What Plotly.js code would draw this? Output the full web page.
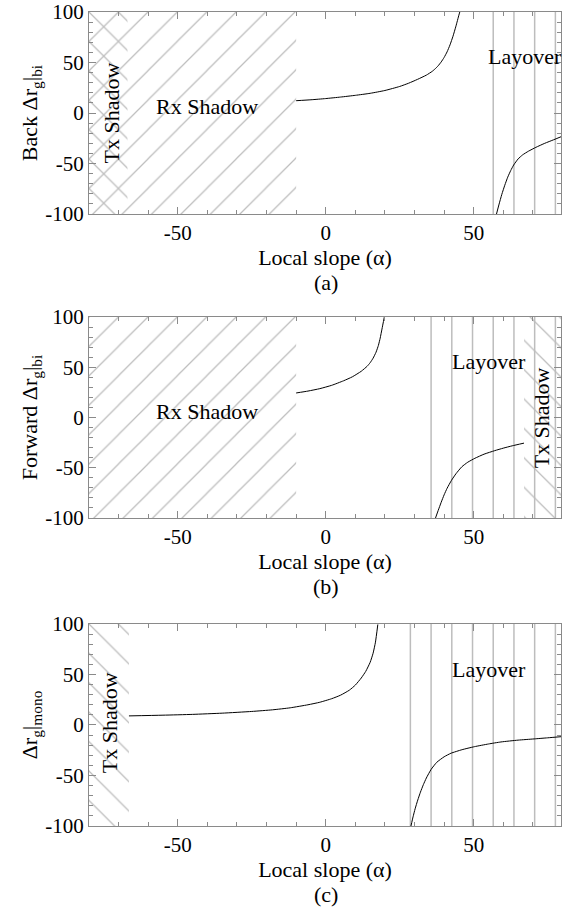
<!DOCTYPE html>
<html>
<head>
<meta charset="utf-8">
<script src="https://cdn.plot.ly/plotly-3.0.1.min.js"></script>
<style>html,body{margin:0;padding:0;background:#fff;}#chart{width:562px;height:907px;}</style>
</head>
<body>
<div id="chart"></div>
<script>
// ---- data ----
const xRange = [-80, 79.5];
const yRange = [-100, 100];
const xTickVals = [-50, 0, 50];
const xTickText = ['-50', '0', '50'];
const yTickVals = [-100, -50, 0, 50, 100];
const yTickText = ['-100', '-50', '0', '50', '100'];

// (a) back-scatter bistatic
const backX1 = [-10,-5,0,5,10,15,20,25,28,31,34,36,37,38,39,40,41,42,43,44,45,45.3];
const backY1 = [12.2,13.1,14.3,15.8,17.5,19.5,22.3,26.3,29.5,33.3,37.5,41.3,43.8,46.8,50.5,55,60.5,67.5,76,86,97,100];
const backX2 = [57.7,58.5,59.5,60.5,61.5,62.5,63.5,65,66.5,68.5,71,74,77,79.5];
const backY2 = [-100,-91,-80.5,-71.5,-63.5,-57,-51.5,-45.5,-41.5,-37.8,-34,-30,-26.5,-23.5];
const layoverA = [56.6, 63.6, 70.6, 77.6];
const rxShadowA = [-80, -10];
const txShadowA = [-80, -67];

// (b) forward-scatter bistatic
const fwdX1 = [-10,-6,-2,2,6,9,12,14,15,16,17,17.8,18.4,19,19.8];
const fwdY1 = [24.4,26.3,28.7,32,36.5,40.5,46,51,54.5,59,65,71.8,79,88,100];
const fwdX2 = [37.1,38,39,40,41,42.5,44,46,48,50.4,53.5,57.1,60,63,67];
const fwdY2 = [-100,-92.5,-84.5,-77,-70.5,-62.5,-56,-49,-44.5,-40.6,-36.5,-33,-30.5,-28.2,-25.5];
const layoverB = [35.6, 42.6, 49.6, 56.6, 63.6, 70.6, 77.6];
const rxShadowB = [-80, -10];
const txShadowB = [67, 79.5];

// (c) monostatic
const monoX1 = [-66.5,-55,-45,-35,-25,-18,-12,-6,-2,2,5,8,10,12,13.5,15,16,16.8,17.6];
const monoY1 = [9,9.7,10.5,11.7,13.4,15,17,20,22.5,26,29.5,34.5,39.5,46.5,53,62,71,82,99.5];
const monoX2 = [28.8,29.5,30.2,31.1,32,33,34,35.6,37.5,40,42.3,46,50.2,55,59.2,65,70.4,75,79.5];
const monoY2 = [-100,-91,-83,-74.3,-66.5,-59,-52.5,-44,-37,-31.5,-28,-24.5,-21.5,-18.8,-16.8,-15,-13.8,-12.7,-11.6];
const layoverC = [28.6, 35.6, 42.6, 49.6, 56.6, 63.6, 70.6, 77.6];
const txShadowC = [-80, -66.5];

// ---- styling ----
const FONT = '"Liberation Serif", serif';
const HATCH = '#bdbdbd';
const AXIS = '#8a8a8a';

function hatch(range, shape, xa, ya) {
  return {
    type: 'scatter', mode: 'lines', xaxis: xa, yaxis: ya,
    x: [range[0], range[1], range[1], range[0], range[0]],
    y: [yRange[0], yRange[0], yRange[1], yRange[1], yRange[0]],
    fill: 'toself', fillcolor: 'rgba(0,0,0,0)',
    fillpattern: {shape: shape, fgcolor: HATCH, bgcolor: 'rgba(0,0,0,0)', size: 20.8, solidity: 0.06},
    line: {width: 0, color: 'rgba(0,0,0,0)'}, hoverinfo: 'skip', showlegend: false
  };
}
function vlines(xs, xa, ya) {
  const x = [], y = [];
  xs.forEach(v => { x.push(v, v, null); y.push(yRange[0], yRange[1], null); });
  return {type: 'scatter', mode: 'lines', x: x, y: y, xaxis: xa, yaxis: ya,
          line: {color: HATCH, width: 1.5}, hoverinfo: 'skip', showlegend: false};
}
function curve(x, y, xa, ya) {
  return {type: 'scatter', mode: 'lines', x: x, y: y, xaxis: xa, yaxis: ya, cliponaxis: true,
          line: {color: '#000', width: 1, shape: 'spline', smoothing: 0.5}, showlegend: false};
}

const traces = [
  hatch(rxShadowA, '/', 'x', 'y'), hatch(txShadowA, '\\', 'x', 'y'), vlines(layoverA, 'x', 'y'),
  curve(backX1, backY1, 'x', 'y'), curve(backX2, backY2, 'x', 'y'),
  hatch(rxShadowB, '/', 'x2', 'y2'), hatch(txShadowB, '\\', 'x2', 'y2'), vlines(layoverB, 'x2', 'y2'),
  curve(fwdX1, fwdY1, 'x2', 'y2'), curve(fwdX2, fwdY2, 'x2', 'y2'),
  hatch(txShadowC, '\\', 'x3', 'y3'), vlines(layoverC, 'x3', 'y3'),
  curve(monoX1, monoY1, 'x3', 'y3'), curve(monoX2, monoY2, 'x3', 'y3')
];

function xax(anchor) {
  return {
    anchor: anchor, range: xRange, tickmode: 'array', tickvals: xTickVals, ticktext: xTickText,
    ticks: 'inside', ticklen: 7, tickcolor: AXIS, tickwidth: 1,
    minor: {dtick: 10, tick0: 0, ticks: 'inside', ticklen: 4, tickcolor: AXIS},
    showline: true, linecolor: AXIS, linewidth: 1, mirror: 'ticks',
    showgrid: false, zeroline: false,
    tickfont: {family: FONT, size: 21, color: '#000'},
    title: {text: 'Local slope (\u03b1)', font: {family: FONT, size: 22, color: '#000'}, standoff: 3}
  };
}
function yax(anchor, dom, title) {
  return {
    anchor: anchor, domain: dom, range: yRange, tickmode: 'array', tickvals: yTickVals, ticktext: yTickText,
    ticks: 'inside', ticklen: 7, tickcolor: AXIS, tickwidth: 1,
    minor: {dtick: 10, tick0: 0, ticks: 'inside', ticklen: 4, tickcolor: AXIS},
    showline: true, linecolor: AXIS, linewidth: 1, mirror: 'ticks',
    showgrid: false, zeroline: false,
    tickfont: {family: FONT, size: 21, color: '#000'},
    title: {text: title, font: {family: FONT, size: 22, color: '#000'}, standoff: 1}
  };
}

const ann = [];
function txt(t, x, y, xr, yr, rot) {
  ann.push({text: t, x: x, y: y, xref: xr, yref: yr, showarrow: false, textangle: rot || 0,
            font: {family: FONT, size: 22, color: '#000'}, xanchor: 'center', yanchor: 'middle'});
}
txt('Tx Shadow', -72.4, 0, 'x', 'y', -90);
txt('Rx Shadow', -40.2, 6, 'x', 'y');
txt('Layover', 67.5, 55.5, 'x', 'y');
txt('Rx Shadow', -40, 5.8, 'x2', 'y2');
txt('Layover', 55.2, 55.5, 'x2', 'y2');
txt('Tx Shadow', 73.2, -0.5, 'x2', 'y2', -90);
txt('Tx Shadow', -72.8, 2, 'x3', 'y3', -90);
txt('Layover', 55, 55, 'x3', 'y3');
txt('(a)', 0, -0.337, 'x', 'y domain');
txt('(b)', 0, -0.34, 'x2', 'y2 domain');
txt('(c)', 0, -0.337, 'x3', 'y3 domain');

const layout = {
  width: 562, height: 907,
  margin: {l: 89, r: 1, t: 12, b: 81},
  paper_bgcolor: '#fff', plot_bgcolor: '#fff',
  showlegend: false,
  xaxis: xax('y'), xaxis2: xax('y2'), xaxis3: xax('y3'),
  yaxis: yax('x', [0.7518, 1], 'Back \u0394r<sub>g</sub>|<sub>bi</sub>'),
  yaxis2: yax('x2', [0.3784, 0.6253], 'Forward \u0394r<sub>g</sub>|<sub>bi</sub>'),
  yaxis3: yax('x3', [0, 0.2482], '\u0394r<sub>g</sub>|<sub>mono</sub>'),
  annotations: ann
};

Plotly.newPlot('chart', traces, layout, {staticPlot: true, displayModeBar: false});
</script>
</body>
</html>
